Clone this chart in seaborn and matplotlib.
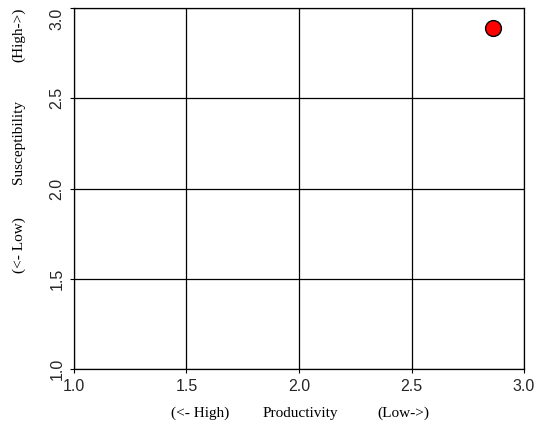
import matplotlib
matplotlib.use("Agg")
import matplotlib.pyplot as plt
import seaborn as sns
import pandas as pd

sns.set_style("whitegrid")

# Datos
productivity = [2.86]
susceptibility = [2.89]
ticks = [1.0, 1.5, 2.0, 2.5, 3.0]

df = pd.DataFrame({"productivity": productivity, "susceptibility": susceptibility})

fig = plt.figure(figsize=(5.38, 4.30), dpi=100)
ax = fig.add_axes([0.1375, 0.142, 0.8365, 0.839])

sns.scatterplot(data=df, x="productivity", y="susceptibility", ax=ax,
                s=130, color="red", edgecolor="black", linewidth=1, zorder=3)

ax.set_xlim(1, 3)
ax.set_ylim(1, 3)
ax.set_xticks(ticks)
ax.set_yticks(ticks)
ax.set_xticklabels([f"{t:.1f}" for t in ticks], fontsize=11.5, family="Liberation Sans")
ylabs = ax.set_yticklabels([f"{t:.1f}" for t in ticks], fontsize=11.5, family="Liberation Sans",
                           rotation=90, va="center")
# la etiqueta superior baja un poco para no salirse de la imagen
ylabs[-1].set_va("top")
ax.tick_params(axis="both", length=3, width=0.8, color="black", direction="out",
               bottom=True, left=True, pad=4)
ax.grid(True, color="black", linewidth=0.9)
for s in ax.spines.values():
    s.set_color("black")
    s.set_linewidth(0.9)
ax.set_xlabel("")
ax.set_ylabel("")

# Etiquetas de ejes en serif
serif = dict(family="Liberation Serif", fontsize=11, color="black")
fig.text(200 / 538, 1 - 413 / 430, "(<- High)", ha="center", va="center", **serif)
fig.text(300 / 538, 1 - 413 / 430, "Productivity", ha="center", va="center", **serif)
fig.text(403 / 538, 1 - 413 / 430, "(Low->)", ha="center", va="center", **serif)
fig.text(19 / 538, 1 - 245 / 430, "(<- Low)", ha="center", va="center", rotation=90, **serif)
fig.text(19 / 538, 1 - 142 / 430, "Susceptibility", ha="center", va="center", rotation=90, **serif)
fig.text(19 / 538, 1 - 35 / 430, "(High->)", ha="center", va="center", rotation=90, **serif)

plt.savefig("out.png", dpi=100)
plt.close()
